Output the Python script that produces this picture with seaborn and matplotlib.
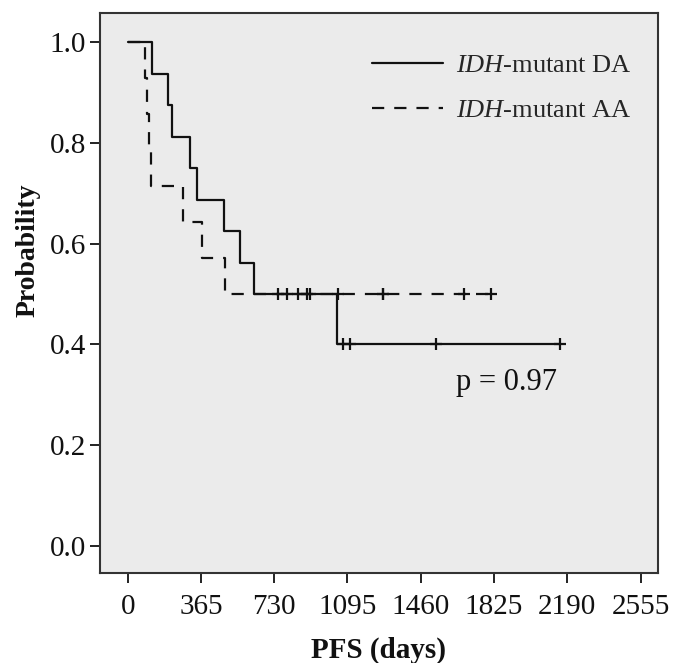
import numpy as np
import pandas as pd
import matplotlib.pyplot as plt
import seaborn as sns

# Kaplan-Meier data (days)
# IDH-mutant DA, n = 16
da_event_days = [120, 199, 222, 310, 347, 481, 560, 629, 1041]
da_censor_days = [749, 849, 893, 1074, 1107, 1535, 2154]
# IDH-mutant AA, n = 14
aa_event_days = [86, 95, 106, 118, 277, 369, 485]
aa_censor_days = [792, 908, 1048, 1272, 1272, 1676, 1810]

group_labels = [r'$\mathit{IDH}$-mutant DA', r'$\mathit{IDH}$-mutant AA']
x_ticks = [0, 365, 730, 1095, 1460, 1825, 2190, 2555]
y_ticks = [0.0, 0.2, 0.4, 0.6, 0.8, 1.0]
p_text = 'p = 0.97'


def km_curve(events, censors, label):
    n = len(events) + len(censors)
    surv = 1.0
    steps = [(0, 1.0)]
    marks = []
    for t in sorted(set(events) | set(censors)):
        d = events.count(t)
        c = censors.count(t)
        if d:
            surv *= (n - d) / n
            steps.append((t, surv))
        if c:
            marks.extend([(t, surv)] * c)
        n -= d + c
    steps.append((max(events + censors), surv))
    steps = pd.DataFrame(steps, columns=['day', 'surv'])
    marks = pd.DataFrame(marks, columns=['day', 'surv'])
    steps['group'] = label
    marks['group'] = label
    return steps, marks


da_steps, da_marks = km_curve(da_event_days, da_censor_days, group_labels[0])
aa_steps, aa_marks = km_curve(aa_event_days, aa_censor_days, group_labels[1])

sns.set_theme(style='white')
plt.rcParams['font.family'] = ['Liberation Serif', 'DejaVu Serif']
plt.rcParams['mathtext.fontset'] = 'custom'
plt.rcParams['mathtext.rm'] = 'Liberation Serif'
plt.rcParams['mathtext.it'] = 'Liberation Serif:italic'

fig, ax = plt.subplots(figsize=(6.73, 6.63), dpi=100)
fig.subplots_adjust(left=0.1486, right=0.9777, bottom=0.1357, top=0.9804)
ax.set_facecolor('#ebebeb')

sns.lineplot(data=da_steps, x='day', y='surv', color='#111111', linewidth=1.6,
             drawstyle='steps-post', estimator=None, sort=False, ax=ax,
             label=group_labels[0])
sns.lineplot(data=aa_steps, x='day', y='surv', color='#111111', linewidth=1.6,
             linestyle=(0, (5.5, 4.5)), drawstyle='steps-post', estimator=None,
             sort=False, ax=ax, label=group_labels[1])

marks = pd.concat([da_marks, aa_marks])
sns.scatterplot(data=marks, x='day', y='surv', marker='+', s=70, color='#111111',
                linewidth=1.6, ax=ax, legend=False)

ax.text(1885, 0.325, p_text, fontsize=22, ha='center', va='center', color='#111111')

ax.set_xlim(-138, 2642)
ax.set_ylim(-0.054, 1.058)
ax.set_xticks(x_ticks)
ax.set_yticks(y_ticks)
ax.set_xticklabels([str(t) for t in x_ticks])
ax.set_yticklabels([f'{v:.1f}' for v in y_ticks])
ax.tick_params(axis='both', direction='out', length=7, width=1.4, color='#222222',
               labelsize=21, labelcolor='#111111', pad=3, left=True, bottom=True)
ax.tick_params(axis='x', pad=8)
for sp in ax.spines.values():
    sp.set_color('#333333')
    sp.set_linewidth(1.5)

ax.set_xlabel('PFS (days)', fontsize=21, fontweight='bold', color='#111111')
ax.set_ylabel('Probability', fontsize=20, fontweight='bold', color='#111111')
ax.xaxis.set_label_coords(0.5, -0.114)
ax.yaxis.set_label_coords(-0.106, 0.577)

ax.legend(loc='upper right', bbox_to_anchor=(1.0, 0.975), frameon=False,
          fontsize=19, handlelength=2.7, handletextpad=0.5, labelspacing=0.83,
          borderaxespad=0.6)

plt.savefig('out.png', dpi=100)
plt.close()
